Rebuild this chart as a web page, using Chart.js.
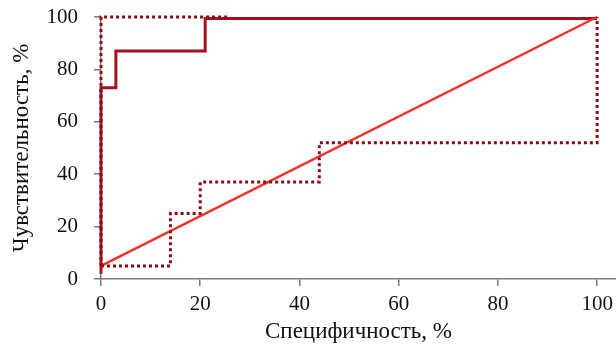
<!DOCTYPE html>
<html>
<head>
<meta charset="utf-8">
<script src="https://cdn.jsdelivr.net/npm/chart.js@4"></script>
<style>
  body { margin: 0; background: #fff; }
  #wrap { width: 616px; height: 346px; }
</style>
</head>
<body>
<div id="wrap"><canvas id="roc" width="616" height="346"></canvas></div>
<script>
// ROC-кривая и доверительные границы (специфичность, чувствительность)
const rocX = [0, 0, 3, 3, 21, 21, 100];
const rocY = [2, 73, 73, 87, 87, 99.4, 99.4];

const upperX = [0, 0, 25.6];
const upperY = [5, 100, 100];

const lowerX = [0, 14, 14, 20, 20, 44, 44, 100, 100];
const lowerY = [5, 5, 25, 25, 37, 37, 52, 52, 100];

const diagX = [0, 100];
const diagY = [5, 100];

const tickValues = [0, 20, 40, 60, 80, 100];

function pts(xs, ys) {
    return xs.map((x, i) => ({ x: x, y: ys[i] }));
}

const axisColor = '#7a7a7a';
const family = '"Liberation Serif", "DejaVu Serif", serif';
const tickFont = { family: family, size: 21 };
const titleFont = { family: family, size: 23 };

document.addEventListener('DOMContentLoaded', function() {
    const ctx = document.getElementById('roc').getContext('2d');
    new Chart(ctx, {
        type: 'line',
        data: {
            datasets: [
                {
                    data: pts(upperX, upperY),
                    borderColor: '#8b0a14',
                    borderWidth: 3,
                    borderDash: [3, 3],
                    pointRadius: 0,
                    clip: 6
                },
                {
                    data: pts(lowerX, lowerY),
                    borderColor: '#8b0a14',
                    borderWidth: 3,
                    borderDash: [3, 3],
                    pointRadius: 0,
                    clip: 6
                },
                {
                    data: pts(diagX, diagY),
                    borderColor: '#f0302a',
                    borderWidth: 2.5,
                    pointRadius: 0,
                    clip: 6
                },
                {
                    data: pts(rocX, rocY),
                    borderColor: '#a3121c',
                    borderWidth: 3,
                    pointRadius: 0,
                    clip: 6
                }
            ]
        },
        options: {
            responsive: false,
            animation: false,
            layout: { autoPadding: false, padding: { top: 17, right: 0, left: 8, bottom: 0 } },
            plugins: { legend: { display: false }, tooltip: { enabled: false } },
            scales: {
                x: {
                    type: 'linear',
                    min: 0,
                    max: 103.8,
                    afterBuildTicks: axis => { axis.ticks = tickValues.map(v => ({ value: v })); },
                    afterFit: axis => { axis.height = 67; axis.paddingRight = 0; axis.paddingLeft = 0; },
                    grid: { drawOnChartArea: false, color: axisColor, tickLength: 7, lineWidth: 1.5 },
                    border: { color: axisColor, width: 1.5 },
                    ticks: { color: '#111', font: tickFont, padding: 6, maxRotation: 0 },
                    title: { display: true, text: 'Специфичность, %', color: '#111', font: titleFont, padding: { top: 0, bottom: 0 } }
                },
                y: {
                    min: 0,
                    max: 100,
                    afterBuildTicks: axis => { axis.ticks = tickValues.map(v => ({ value: v })); },
                    afterFit: axis => { axis.width = 93; axis.paddingTop = 0; axis.paddingBottom = 0; },
                    grid: { drawOnChartArea: false, color: axisColor, tickLength: 7, lineWidth: 1.5 },
                    border: { color: axisColor, width: 1.5 },
                    ticks: { color: '#111', font: tickFont, padding: 16 },
                    title: { display: true, text: 'Чувствительность, %', color: '#111', font: titleFont, padding: { top: 0, bottom: 0 } }
                }
            }
        }
    });
});
</script>
</body>
</html>
